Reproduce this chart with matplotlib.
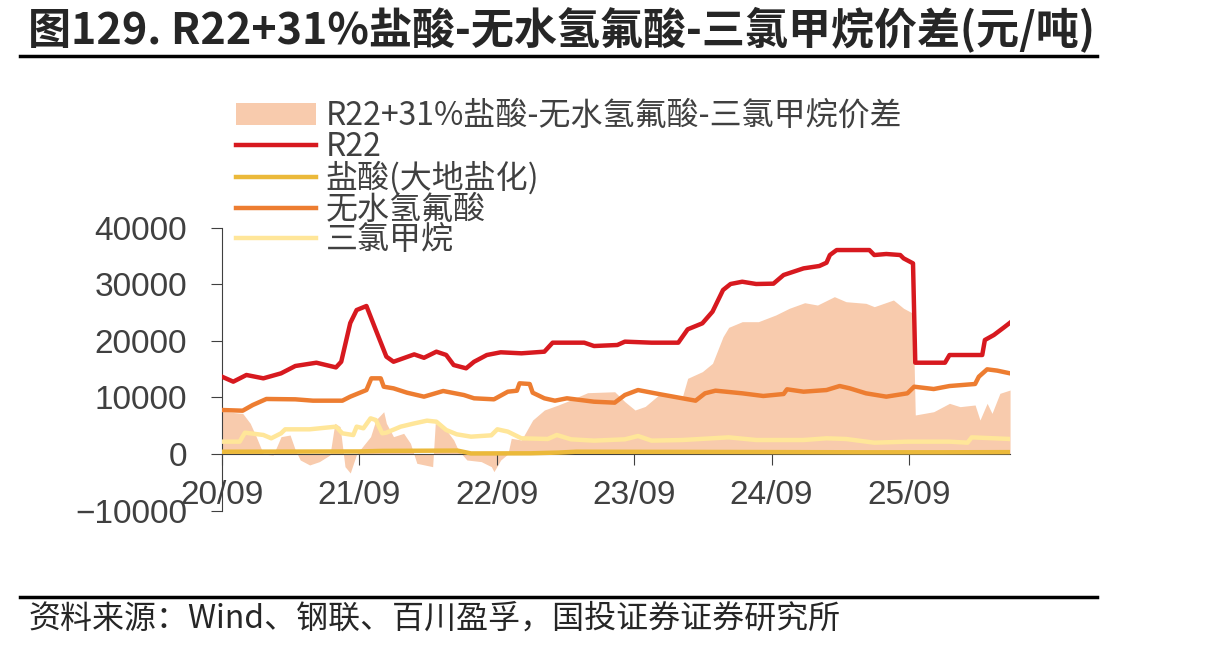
import pandas as pd
import matplotlib.pyplot as plt
import matplotlib.dates as mdates
from matplotlib import font_manager
from matplotlib.lines import Line2D

plt.rcParams['font.family'] = ['Noto Sans CJK SC', 'DejaVu Sans']
names = {f.name for f in font_manager.fontManager.ttflist}
num_font = 'Liberation Sans Narrow' if 'Liberation Sans Narrow' in names else 'Liberation Sans'
num_size = 28 if num_font == 'Liberation Sans Narrow' else 24

# 价差 (面积)
spread_dates = ['2020-09-01', '2020-10-26', '2020-11-15', '2020-12-01', '2020-12-20', '2021-01-15',
                '2021-02-05', '2021-03-01', '2021-03-15', '2021-03-28', '2021-04-22', '2021-05-18',
                '2021-06-15', '2021-06-28', '2021-07-12', '2021-07-25', '2021-08-08', '2021-08-25',
                '2021-10-01', '2021-10-15', '2021-11-05', '2021-11-12', '2021-12-01', '2021-12-28',
                '2022-01-15', '2022-02-01', '2022-03-15', '2022-03-22', '2022-04-20', '2022-05-10',
                '2022-05-22', '2022-06-14', '2022-07-22', '2022-08-18', '2022-08-25', '2022-09-12',
                '2022-10-01', '2022-10-10', '2022-11-06', '2022-12-06', '2023-01-06', '2023-02-12',
                '2023-03-06', '2023-05-01', '2023-07-12', '2023-08-08', '2023-09-04', '2023-10-01',
                '2023-11-06', '2024-01-08', '2024-01-22', '2024-03-01', '2024-03-28', '2024-04-25',
                '2024-05-10', '2024-06-15', '2024-07-28', '2024-09-12', '2024-10-18', '2024-11-28',
                '2025-01-01', '2025-02-15', '2025-03-18', '2025-05-10', '2025-06-01', '2025-07-22',
                '2025-08-18', '2025-09-12', '2025-09-18', '2025-11-06', '2025-12-18', '2026-01-15',
                '2026-02-24', '2026-03-09', '2026-03-28', '2026-04-10', '2026-05-01', '2026-05-28']
spread_vals = [7500, 7180, 5420, 3060, 0, -200,
               3060, 3350, 700, -1060, -1940, -1350,
               -180, 5420, 4830, -2240, -3360, 0,
               3060, 6000, 7470, 5420, 3060, 3650,
               1880, -1650, -2240, 5420, 4240, 2470,
               700, -1060, -1350, -2240, -3120, -1060,
               0, 2770, 2470, 6000, 7770, 8660,
               9240, 10830, 11000, 9240, 7770, 8400,
               10420, 10130, 13370, 14550, 16020, 20730,
               22380, 23380, 23380, 24560, 25740, 26730,
               26320, 27800, 26910, 26620, 26030, 27210,
               25740, 24860, 6890, 7470, 8950, 8360,
               8660, 6000, 8950, 7180, 10720, 11300]

# R22
r22_dates = ['2020-09-01', '2020-10-01', '2020-11-05', '2020-12-20', '2021-02-05', '2021-03-15',
             '2021-05-10', '2021-07-01', '2021-07-15', '2021-08-08', '2021-08-25', '2021-09-20',
             '2021-10-15', '2021-11-12', '2021-12-01', '2022-01-25', '2022-02-20', '2022-03-25',
             '2022-04-20', '2022-05-10', '2022-06-12', '2022-07-03', '2022-08-06', '2022-09-12',
             '2022-11-06', '2023-01-06', '2023-01-28', '2023-04-22', '2023-05-18', '2023-07-19',
             '2023-08-08', '2023-10-18', '2023-12-28', '2024-01-22', '2024-03-01', '2024-03-28',
             '2024-04-25', '2024-05-15', '2024-06-15', '2024-07-22', '2024-09-06', '2024-10-03',
             '2024-11-25', '2025-01-06', '2025-01-25', '2025-02-03', '2025-02-21', '2025-05-19',
             '2025-06-01', '2025-07-03', '2025-08-09', '2025-08-18', '2025-09-12', '2025-09-18',
             '2025-12-06', '2025-12-18', '2026-03-15', '2026-03-22', '2026-04-15', '2026-05-12',
             '2026-05-28']
r22_vals = [13660, 12780, 13960, 13370, 14250, 15550,
            16130, 15300, 16300, 23140, 25440, 26150,
            21900, 17200, 16300, 17600, 17000, 18080,
            17500, 15720, 15140, 16290, 17490, 17970,
            17790, 18080, 19670, 19670, 19080, 19260,
            19850, 19670, 19670, 22030, 23090, 25150,
            28980, 30040, 30440, 30040, 30100, 31630,
            32800, 33220, 33800, 35160, 36040, 36040,
            35160, 35340, 35160, 34570, 33690, 16130,
            16130, 17490, 17490, 20140, 21030, 22380,
            23200]

# 盐酸(大地盐化)
hcl_dates = ['2020-09-01', '2021-09-01', '2021-11-01', '2022-05-20', '2022-06-25', '2022-12-01',
             '2023-02-12', '2023-04-01', '2024-06-01', '2025-05-01', '2025-12-01', '2026-05-28']
hcl_vals = [400, 450, 550, 600, 100, 120, 250, 400, 350, 300, 300, 330]

# 无水氢氟酸
hf_dates = ['2020-09-01', '2020-10-26', '2020-11-22', '2020-12-28', '2021-03-15', '2021-05-01',
            '2021-07-18', '2021-08-08', '2021-09-20', '2021-10-03', '2021-10-28', '2021-11-05',
            '2021-12-01', '2022-01-06', '2022-02-20', '2022-04-12', '2022-06-06', '2022-07-03',
            '2022-08-25', '2022-10-01', '2022-10-25', '2022-11-01', '2022-11-28', '2022-12-06',
            '2023-01-06', '2023-02-03', '2023-03-07', '2023-05-18', '2023-07-12', '2023-08-08',
            '2023-09-12', '2023-11-06', '2024-01-08', '2024-02-12', '2024-03-08', '2024-04-05',
            '2024-06-15', '2024-08-10', '2024-10-03', '2024-10-12', '2024-11-25', '2025-01-25',
            '2025-03-01', '2025-03-28', '2025-05-10', '2025-07-03', '2025-08-28', '2025-09-15',
            '2025-11-06', '2025-12-18', '2026-02-24', '2026-03-06', '2026-03-28', '2026-04-24',
            '2026-05-28']
hf_vals = [7770, 7650, 8660, 9720, 9660, 9420,
           9420, 10130, 11300, 13370, 13370, 11890,
           11600, 10830, 10130, 11130, 10420, 9840,
           9660, 11010, 11180, 12490, 12370, 10830,
           9840, 9420, 9840, 9240, 9070, 10420,
           11300, 10600, 9840, 9420, 10720, 11190,
           10720, 10250, 10600, 11430, 11010, 11300,
           12010, 11600, 10720, 10130, 10720, 11890,
           11480, 12010, 12370, 13660, 14960, 14730,
           14250]

# 三氯甲烷
tcm_dates = ['2020-09-01', '2020-10-18', '2020-11-01', '2020-12-20', '2021-01-10', '2021-02-05',
             '2021-02-16', '2021-04-22', '2021-07-01', '2021-07-18', '2021-08-16', '2021-08-25',
             '2021-09-12', '2021-10-01', '2021-10-15', '2021-11-01', '2021-11-12', '2021-12-20',
             '2022-01-25', '2022-02-28', '2022-03-25', '2022-04-20', '2022-05-18', '2022-06-25',
             '2022-08-18', '2022-09-03', '2022-10-01', '2022-11-06', '2023-01-15', '2023-02-08',
             '2023-03-18', '2023-05-18', '2023-08-08', '2023-09-12', '2023-10-18', '2024-01-08',
             '2024-05-10', '2024-07-22', '2024-11-25', '2025-01-25', '2025-03-18', '2025-06-01',
             '2025-08-28', '2025-12-18', '2026-02-04', '2026-02-15', '2026-05-28']
tcm_vals = [2180, 2180, 3770, 3360, 2770, 3650,
            4360, 4360, 4830, 3650, 3350, 4830,
            4540, 6300, 6000, 3650, 3770, 4830,
            5400, 5890, 5710, 4240, 3480, 3060,
            3300, 4360, 3950, 2770, 2650, 3360,
            2590, 2360, 2590, 3180, 2360, 2470,
            2940, 2470, 2470, 2770, 2650, 2000,
            2180, 2180, 2000, 2940, 2650]

year_ticks = ['2020-09-01', '2021-09-01', '2022-09-01', '2023-09-01', '2024-09-01', '2025-09-01']
y_ticks = [-10000, 0, 10000, 20000, 30000, 40000]

text_c = '#404040'
fig = plt.figure(figsize=(12.13, 6.5), dpi=100)
ax = fig.add_axes([0.183, 0.2145, 0.6497, 0.4353])

ax.fill_between(pd.to_datetime(spread_dates), spread_vals, 0, color='#F8CBAD', lw=0,
                label='R22+31%盐酸-无水氢氟酸-三氯甲烷价差', zorder=1)
ax.plot(pd.to_datetime(r22_dates), r22_vals, color='#D7191F', lw=3.2, label='R22', zorder=5)
ax.plot(pd.to_datetime(hcl_dates), hcl_vals, color='#EBB93A', lw=3.2, label='盐酸(大地盐化)', zorder=3)
ax.plot(pd.to_datetime(hf_dates), hf_vals, color='#ED7D31', lw=3.2, label='无水氢氟酸', zorder=4)
ax.plot(pd.to_datetime(tcm_dates), tcm_vals, color='#FFE699', lw=3.2, label='三氯甲烷', zorder=3)

ax.set_xlim(pd.Timestamp('2020-09-01'), pd.Timestamp('2026-05-28'))
ax.set_ylim(-10000, 40000)
ax.set_yticks(y_ticks)
ax.set_xticks(pd.to_datetime(year_ticks))
ax.xaxis.set_major_formatter(mdates.DateFormatter('%y/%m'))

for s in ['top', 'right']:
    ax.spines[s].set_visible(False)
ax.spines['bottom'].set_position(('data', 0))
ax.spines['left'].set_color(text_c)
ax.spines['bottom'].set_color(text_c)
ax.tick_params(axis='y', length=8, color=text_c, pad=17, labelcolor=text_c, labelsize=num_size)
ax.tick_params(axis='x', length=8, color=text_c, pad=11, labelcolor=text_c, labelsize=num_size)
for lab in ax.get_xticklabels() + ax.get_yticklabels():
    lab.set_family(num_font)

ax.legend(loc='upper left', bbox_to_anchor=(236 / 1213, 1 - 100 / 650), bbox_transform=fig.transFigure,
          frameon=False, fontsize=23, handlelength=2.5, handletextpad=0.3, labelspacing=-0.04,
          borderaxespad=0, borderpad=0, labelcolor=text_c)

fig.text(28 / 1213, 1 - 29 / 650, '图129. R22+31%盐酸-无水氢氟酸-三氯甲烷价差(元/吨)', fontsize=31,
         fontweight='bold', color='#262626', va='center', ha='left')
fig.add_artist(Line2D([20 / 1213, 1097 / 1213], [1 - 56 / 650, 1 - 56 / 650], color='black', lw=2.5))
fig.add_artist(Line2D([20 / 1213, 1097 / 1213], [1 - 597 / 650, 1 - 597 / 650], color='black', lw=2.5))
fig.text(28 / 1213, 1 - 619 / 650, '资料来源：Wind、钢联、百川盈孚，国投证券证券研究所', fontsize=23,
         color='#262626', va='center', ha='left')

fig.savefig('out.png', dpi=100)
